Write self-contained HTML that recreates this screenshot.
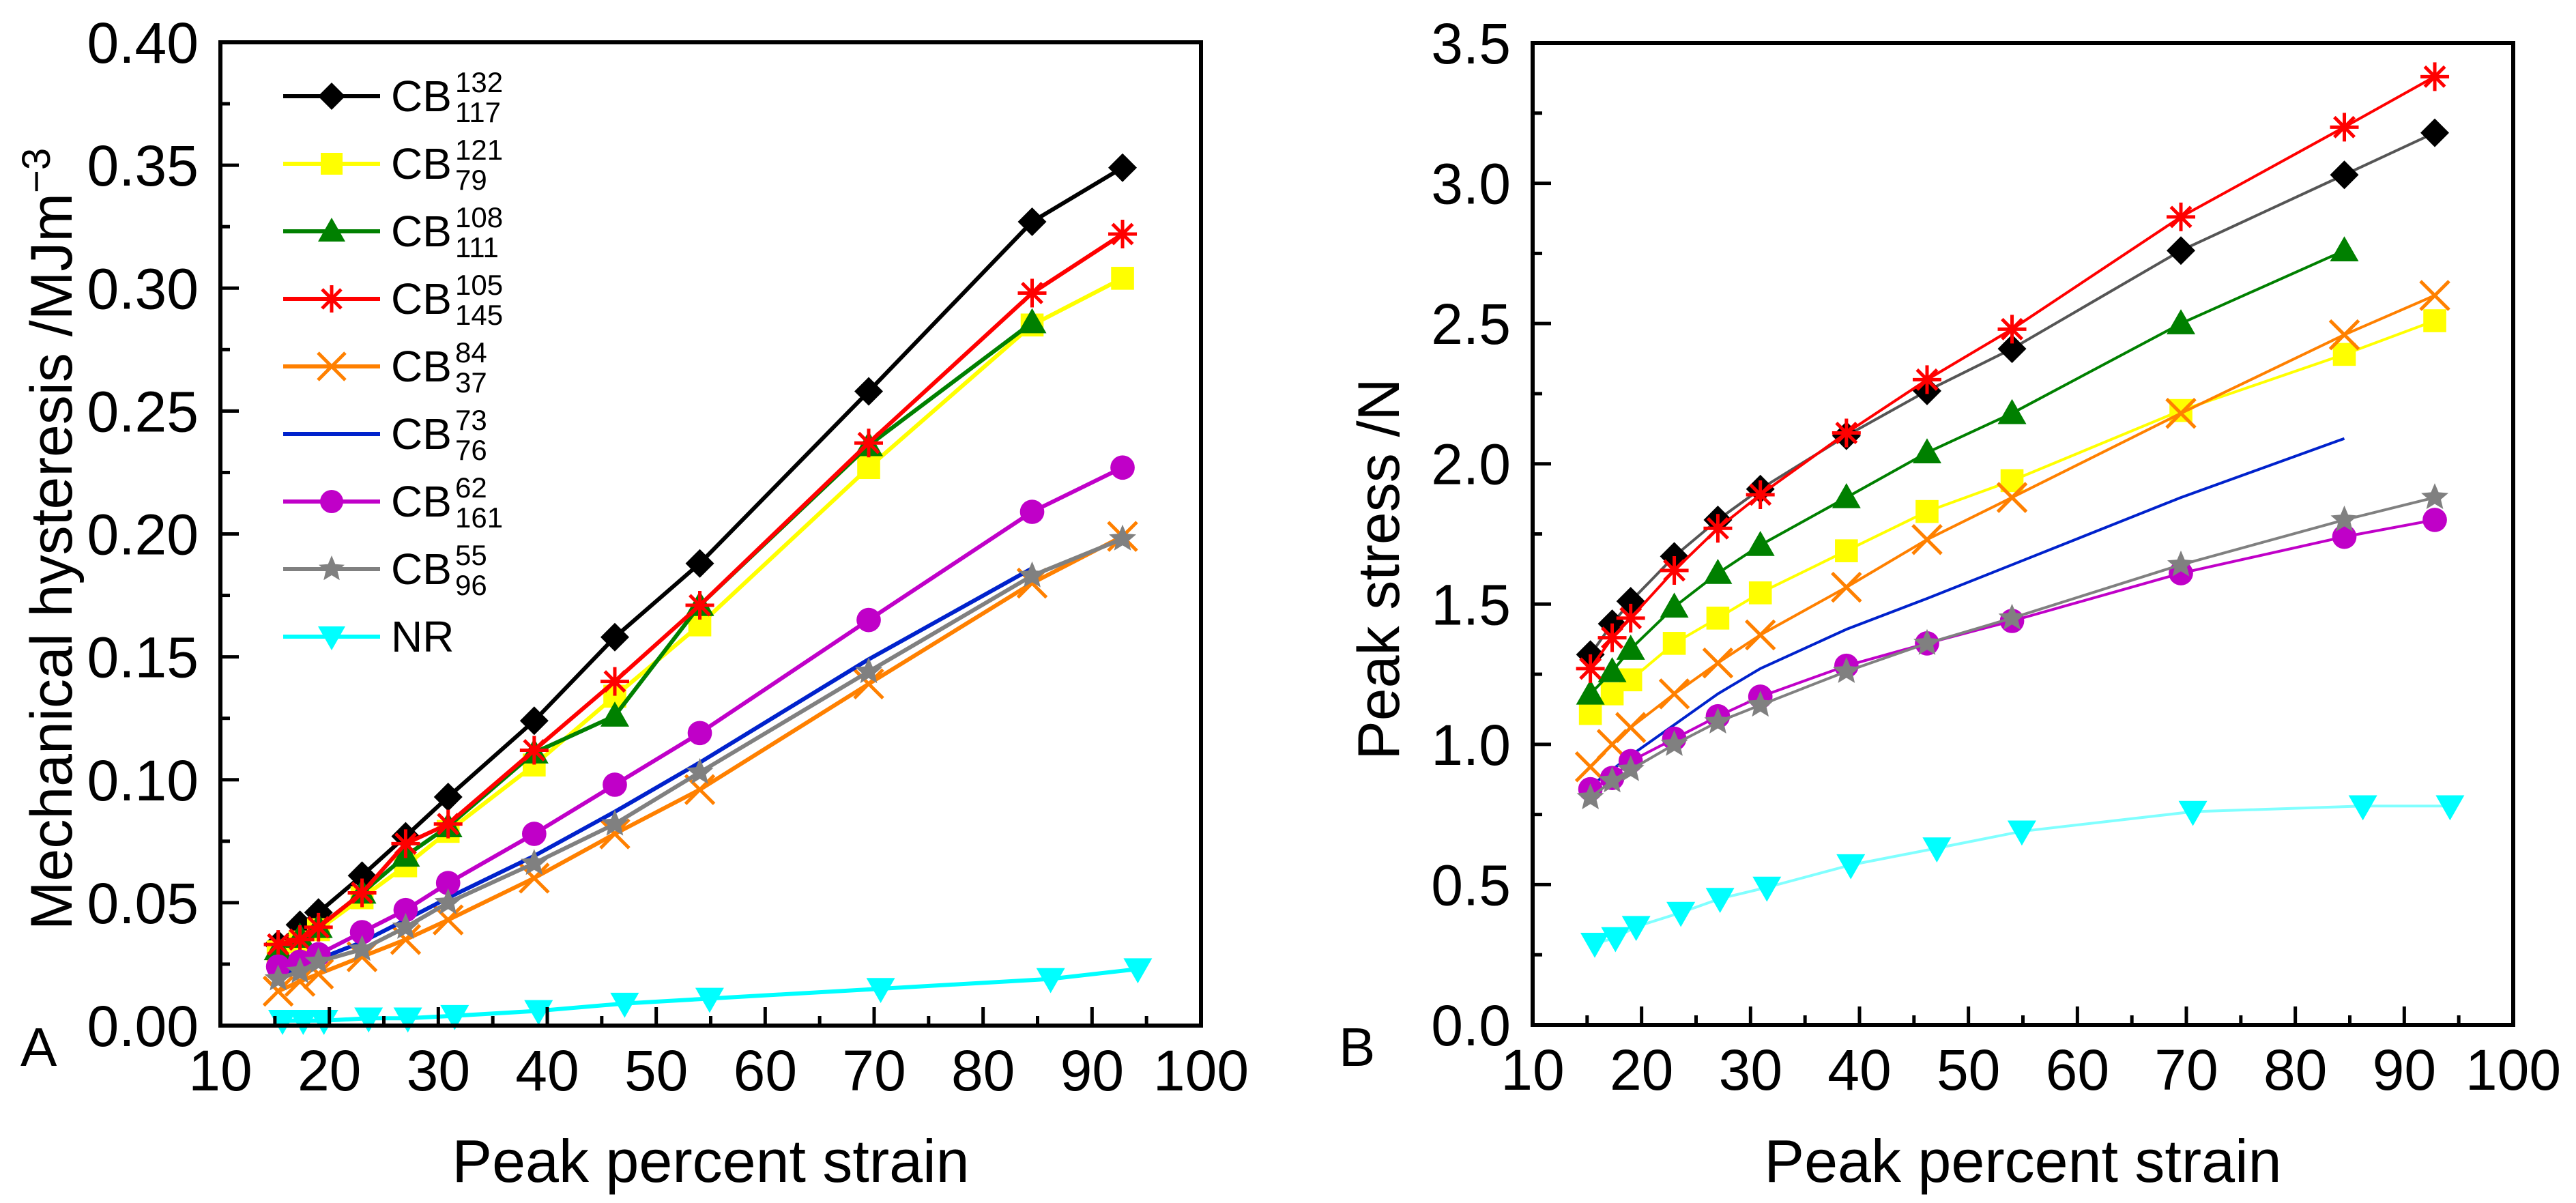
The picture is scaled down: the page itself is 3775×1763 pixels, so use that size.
<!DOCTYPE html>
<html><head><meta charset="utf-8"><style>
html,body{margin:0;padding:0;background:#fff;}
svg{display:block;font-family:"Liberation Sans",Arial,sans-serif;}
</style></head>
<body>
<svg id="fig" width="3775" height="1763" viewBox="0 0 3775 1763" xmlns="http://www.w3.org/2000/svg"></svg>
<script>
const strains = [15.3,17.3,19.0,23.0,27.0,30.9,38.8,46.2,54.0,69.5,84.5,92.8];
const strainsNR = [15.7,17.6,19.5,23.6,27.2,31.5,39.2,47.1,54.9,70.6,86.2,94.2];
const seriesNames = ["CB 132/117","CB 121/79","CB 108/111","CB 105/145","CB 84/37","CB 73/76","CB 62/161","CB 55/96","NR"];
const hystBlack = [0.033,0.041,0.046,0.061,0.077,0.093,0.124,0.158,0.188,0.258,0.327,0.349];
const hystYellow = [0.030,0.034,0.039,0.052,0.065,0.079,0.106,0.134,0.163,0.227,0.285,0.304];
const hystGreen = [0.031,0.036,0.040,0.054,0.069,0.081,0.111,0.126,0.171,0.236,0.286];
const hystRed = [0.033,0.035,0.040,0.054,0.074,0.082,0.112,0.140,0.171,0.237,0.298,0.322];
const hystOrange = [0.014,0.018,0.021,0.028,0.035,0.043,0.060,0.078,0.096,0.139,0.180,0.199];
const hystBlue = [0.020,0.024,0.027,0.034,0.043,0.052,0.069,0.087,0.107,0.149,0.186];
const hystMagenta = [0.024,0.026,0.029,0.038,0.047,0.058,0.078,0.098,0.119,0.165,0.209,0.227];
const hystGray = [0.019,0.022,0.026,0.031,0.040,0.050,0.066,0.082,0.103,0.144,0.183,0.198];
const hystNR = [0.002,0.002,0.002,0.003,0.003,0.004,0.006,0.009,0.011,0.015,0.019,0.023];
const stressBlack = [1.32,1.43,1.51,1.67,1.80,1.91,2.10,2.26,2.41,2.76,3.03,3.18];
const stressYellow = [1.11,1.18,1.23,1.36,1.45,1.54,1.69,1.83,1.94,2.19,2.39,2.51];
const stressGreen = [1.18,1.26,1.34,1.49,1.61,1.71,1.88,2.04,2.18,2.50,2.76];
const stressRed = [1.27,1.38,1.45,1.62,1.77,1.89,2.11,2.30,2.48,2.88,3.20,3.38];
const stressOrange = [0.92,1.00,1.06,1.18,1.29,1.39,1.56,1.73,1.88,2.18,2.46,2.60];
const stressBlue = [0.85,0.91,0.96,1.07,1.18,1.27,1.41,1.52,1.64,1.88,2.09];
const stressMagenta = [0.84,0.88,0.94,1.02,1.10,1.17,1.28,1.36,1.44,1.61,1.74,1.80];
const stressGray = [0.81,0.87,0.91,1.00,1.08,1.14,1.26,1.36,1.45,1.64,1.80,1.88];
const stressNR = [0.29,0.31,0.35,0.40,0.45,0.49,0.57,0.63,0.69,0.76,0.78,0.78];
const xTicks = [10,20,30,40,50,60,70,80,90,100];
const yTicksA = [0,0.05,0.10,0.15,0.20,0.25,0.30,0.35,0.40];
const yTicksB = [0,0.5,1.0,1.5,2.0,2.5,3.0,3.5];
const legendSup = ["132","121","108","105","84","73","62","55"];
const legendSub = ["117","79","111","145","37","76","161","96"];

const NS="http://www.w3.org/2000/svg";
const svg=document.getElementById('fig');
function el(tag,attrs,parent){const e=document.createElementNS(NS,tag);for(const k in attrs)e.setAttribute(k,attrs[k]);(parent||svg).appendChild(e);return e;}

const styles=[
 {c:"#000000",m:"diamond",lc:"#000000",lcB:"#555555"},
 {c:"#ffff00",m:"square",lc:"#ffff00"},
 {c:"#008000",m:"tri",lc:"#008000"},
 {c:"#ff0000",m:"asterisk",lc:"#ff0000"},
 {c:"#ff8000",m:"x",lc:"#ff8000"},
 {c:"#0022cc",m:"none",lc:"#0022cc"},
 {c:"#c000c8",m:"circle",lc:"#c000c8"},
 {c:"#808080",m:"star",lc:"#808080"},
 {c:"#00ffff",m:"tridown",lc:"#00ffff",lcB:"#80ffff"}
];

function marker(g,type,x,y,c,s){
 let e;
 if(type==="diamond") e=el('polygon',{points:`${x},${y-s} ${x+s},${y} ${x},${y+s} ${x-s},${y}`,fill:c},g);
 else if(type==="square") e=el('rect',{x:x-s*0.8,y:y-s*0.8,width:s*1.6,height:s*1.6,fill:c},g);
 else if(type==="tri") e=el('polygon',{points:`${x},${y-s} ${x+s},${y+s*0.75} ${x-s},${y+s*0.75}`,fill:c},g);
 else if(type==="tridown") e=el('polygon',{points:`${x},${y+s} ${x+s},${y-s*0.75} ${x-s},${y-s*0.75}`,fill:c},g);
 else if(type==="circle") e=el('circle',{cx:x,cy:y,r:s*0.85,fill:c},g);
 else if(type==="x") e=el('path',{d:`M${x-s},${y-s}L${x+s},${y+s}M${x-s},${y+s}L${x+s},${y-s}`,stroke:c,'stroke-width':5,fill:'none'},g);
 else if(type==="asterisk") e=el('path',{d:`M${x-s},${y}L${x+s},${y}M${x},${y-s}L${x},${y+s}M${x-s*0.7},${y-s*0.7}L${x+s*0.7},${y+s*0.7}M${x-s*0.7},${y+s*0.7}L${x+s*0.7},${y-s*0.7}`,stroke:c,'stroke-width':5,fill:'none'},g);
 else if(type==="star"){let p=[];for(let i=0;i<10;i++){const r=i%2?s*0.45:s;const a=-Math.PI/2+i*Math.PI/5;p.push((x+r*Math.cos(a)).toFixed(1)+","+(y+r*Math.sin(a)).toFixed(1));}e=el('polygon',{points:p.join(' '),fill:c},g);}
 if(e){}
}

function panel(cfg){
 const g=el('g',{});
 
 
 const X=v=>cfg.L+(v-10)/90*(cfg.R-cfg.L);
 const Y=v=>cfg.B-(v/cfg.ymax)*(cfg.B-cfg.T);
 cfg.series.forEach((vals,i)=>{
  const st=styles[i];const xs=i===8?strainsNR:strains;
  const sg=el('g',{},g);
  
  
  const pts=vals.map((v,j)=>X(xs[j]).toFixed(1)+","+Y(v).toFixed(1)).join(' ');
  const pl=el('polyline',{points:pts,fill:'none',stroke:(cfg.right&&st.lcB)?st.lcB:st.lc,'stroke-width':cfg.lw,'stroke-linejoin':'round'},sg);
  
  
  vals.forEach((v,j)=>marker(sg,st.m,X(xs[j]),Y(v),st.c,cfg.ms));
 });
 const fr=el('rect',{x:cfg.L,y:cfg.T,width:cfg.R-cfg.L,height:cfg.B-cfg.T,fill:'none',stroke:'#000','stroke-width':6},g);
 
 for(let v=10;v<=100;v+=5){const major=v%10===0;const x=X(v);el('line',{x1:x,x2:x,y1:cfg.B,y2:cfg.B-(major?27:14),stroke:'#000','stroke-width':5},g);}
 xTicks.forEach(v=>{const t=el('text',{x:X(v),y:cfg.B+95,'font-size':84,'text-anchor':'middle'},g);t.textContent=v;});
 const step=cfg.yt[1]-cfg.yt[0];
 for(let k=0;k<=(cfg.yt.length-1)*2;k++){const v=k*step/2;const y=Y(v);el('line',{x1:cfg.L,x2:cfg.L+(k%2?14:27),y1:y,y2:y,stroke:'#000','stroke-width':5},g);}
 cfg.yt.forEach(v=>{const t=el('text',{x:cfg.L-32,y:Y(v)+30,'font-size':84,'text-anchor':'end'},g);t.textContent=v.toFixed(cfg.dec);});
 const xt=el('text',{x:(cfg.L+cfg.R)/2,y:1732,'font-size':88,'text-anchor':'middle'},g);xt.textContent='Peak percent strain';
 
 const yt=el('text',{x:0,y:0,'font-size':86,'text-anchor':'middle',transform:`translate(${cfg.ytx},${cfg.yty}) rotate(-90)`},g);
 
 if(cfg.right){yt.textContent='Peak stress /N';}
 else{yt.appendChild(document.createTextNode('Mechanical hysteresis /MJm'));const ts=el('tspan',{dy:-32,'font-size':58},yt);ts.textContent='\u22123';}
 const pl=el('text',{x:cfg.plx,y:1562,'font-size':80},g);pl.textContent=cfg.label;
 
 return g;
}

panel({name:'panel-a-hysteresis',L:323,R:1760,T:62,B:1503,ymax:0.40,yt:yTicksA,dec:2,lw:6,ms:21,
 series:[hystBlack,hystYellow,hystGreen,hystRed,hystOrange,hystBlue,hystMagenta,hystGray,hystNR],
 ytx:105,yty:790,plx:30,label:'A'});
panel({name:'panel-b-stress',L:2246,R:3683,T:63,B:1502,ymax:3.5,yt:yTicksB,dec:1,lw:4,ms:21,right:true,
 series:[stressBlack,stressYellow,stressGreen,stressRed,stressOrange,stressBlue,stressMagenta,stressGray,stressNR],
 ytx:2050,yty:834,plx:1962,label:'B'});

const lg=el('g',{});


for(let i=0;i<9;i++){
 const y=141+i*99;const st=styles[i];
 const eg=el('g',{},lg);
 
 
 el('line',{x1:415,x2:557,y1:y,y2:y,stroke:st.lc,'stroke-width':6},eg);
 marker(eg,st.m,486,y,st.c,20);
 const t=el('text',{x:573,y:y+22,'font-size':64},eg);
 if(i===8){t.textContent='NR';}
 else{
  t.appendChild(document.createTextNode('CB'));
  const w=94;
  const s1=el('text',{x:573+w,y:y-6,'font-size':42},eg);s1.textContent=legendSup[i];
  const s2=el('text',{x:573+w,y:y+38,'font-size':42},eg);s2.textContent=legendSub[i];
 }
}
</script>
</body></html>
